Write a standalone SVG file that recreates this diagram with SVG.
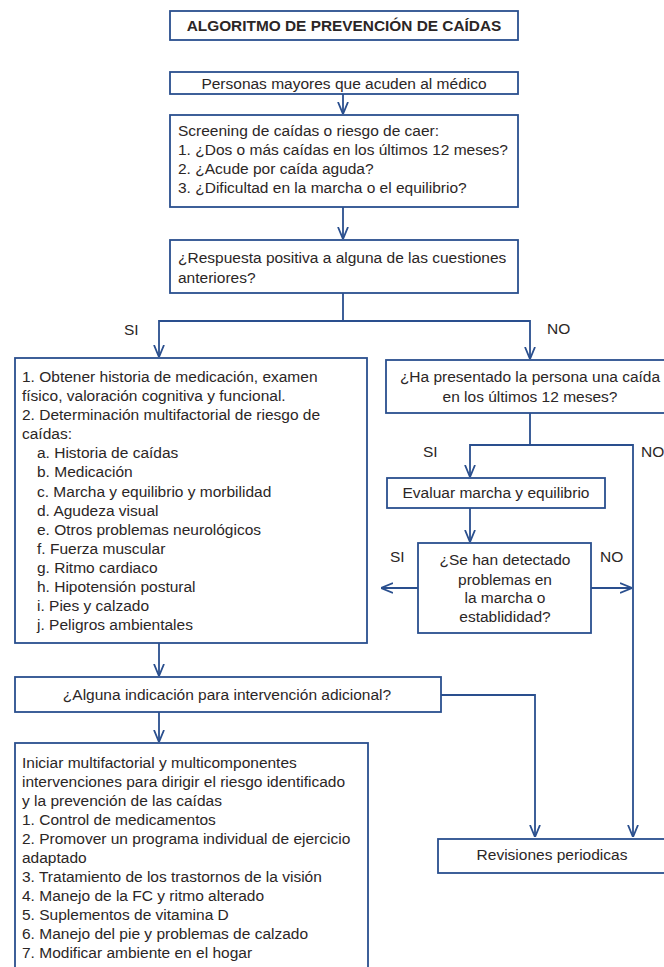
<svg xmlns="http://www.w3.org/2000/svg" width="664" height="967" viewBox="0 0 664 967">
<defs>
<marker id="ah" viewBox="0 0 12 12" refX="12" refY="6" markerWidth="12" markerHeight="12" markerUnits="userSpaceOnUse" orient="auto">
<path d="M0,1 L12,6 L0,11" fill="none" stroke="#2a4f8e" stroke-width="1.8"/>
</marker>
<style>
.box{fill:#fff;stroke:#2a4f8e;stroke-width:1.8}
.t{font-family:"Liberation Sans",Arial,sans-serif;font-size:15.5px;fill:#2b2626}
.c{text-anchor:middle}
.b{font-weight:bold;font-size:15.4px}
.ln{fill:none;stroke:#2a4f8e;stroke-width:1.8}
</style>
</defs>
<rect width="664" height="967" fill="#fff"/>
<g id="title"><rect class="box" x="170" y="11" width="348" height="29"/><text class="t c b" x="344" y="31">ALGORITMO DE PREVENCIÓN DE CAÍDAS</text></g>
<g id="n1"><rect class="box" x="170" y="72" width="348" height="22"/><text class="t c" x="344" y="88.5">Personas mayores que acuden al médico</text></g>
<g id="n2"><rect class="box" x="170" y="115" width="348" height="92"/>
<text class="t" x="178" y="136">Screening de caídas o riesgo de caer:</text>
<text class="t" x="178" y="155">1. ¿Dos o más caídas en los últimos 12 meses?</text>
<text class="t" x="178" y="174">2. ¿Acude por caída aguda?</text>
<text class="t" x="178" y="193">3. ¿Dificultad en la marcha o el equilibrio?</text></g>
<g id="n3"><rect class="box" x="170" y="240" width="348" height="53"/>
<text class="t" x="178" y="263">¿Respuesta positiva a alguna de las cuestiones</text>
<text class="t" x="178" y="283">anteriores?</text></g>
<g id="n4"><rect class="box" x="15" y="358" width="352" height="285"/>
<text class="t" x="22" y="382">1. Obtener historia de medicación, examen</text>
<text class="t" x="22" y="401">físico, valoración cognitiva y funcional.</text>
<text class="t" x="22" y="420">2. Determinación multifactorial de riesgo de</text>
<text class="t" x="22" y="439">caídas:</text>
<text class="t" x="37" y="458">a. Historia de caídas</text>
<text class="t" x="37" y="477">b. Medicación</text>
<text class="t" x="37" y="497">c. Marcha y equilibrio y morbilidad</text>
<text class="t" x="37" y="516">d. Agudeza visual</text>
<text class="t" x="37" y="535">e. Otros problemas neurológicos</text>
<text class="t" x="37" y="554">f. Fuerza muscular</text>
<text class="t" x="37" y="573">g. Ritmo cardiaco</text>
<text class="t" x="37" y="592">h. Hipotensión postural</text>
<text class="t" x="37" y="611">i. Pies y calzado</text>
<text class="t" x="37" y="630">j. Peligros ambientales</text></g>
<g id="n5"><rect class="box" x="386" y="360" width="288" height="53"/>
<text class="t c" x="530" y="382">¿Ha presentado la persona una caída</text>
<text class="t c" x="530" y="402">en los últimos 12 meses?</text></g>
<g id="n6"><rect class="box" x="387" y="478" width="218" height="30"/>
<text class="t c" x="496" y="498">Evaluar marcha y equilibrio</text></g>
<g id="n7"><rect class="box" x="418" y="543" width="173" height="90"/>
<text class="t c" x="505" y="565">¿Se han detectado</text>
<text class="t c" x="505" y="585">problemas en</text>
<text class="t c" x="505" y="603">la marcha o</text>
<text class="t c" x="505" y="622">establididad?</text></g>
<g id="n8"><rect class="box" x="15" y="677" width="426" height="35"/>
<text class="t c" x="227" y="700">¿Alguna indicación para intervención adicional?</text></g>
<g id="n9"><rect class="box" x="15" y="743" width="353" height="240"/>
<text class="t" x="22" y="768">Iniciar multifactorial y multicomponentes</text>
<text class="t" x="22" y="787">intervenciones para dirigir el riesgo identificado</text>
<text class="t" x="22" y="806">y la prevención de las caídas</text>
<text class="t" x="22" y="825">1. Control de medicamentos</text>
<text class="t" x="22" y="844">2. Promover un programa individual de ejercicio</text>
<text class="t" x="22" y="863">adaptado</text>
<text class="t" x="22" y="882">3. Tratamiento de los trastornos de la visión</text>
<text class="t" x="22" y="901">4. Manejo de la FC y ritmo alterado</text>
<text class="t" x="22" y="920">5. Suplementos de vitamina D</text>
<text class="t" x="22" y="939">6. Manejo del pie y problemas de calzado</text>
<text class="t" x="22" y="958">7. Modificar ambiente en el hogar</text></g>
<g id="n10"><rect class="box" x="438" y="839" width="230" height="34"/>
<text class="t c" x="552" y="860">Revisiones periodicas</text></g>
<g id="connectors">
<line class="ln" x1="343" y1="94" x2="343" y2="114" marker-end="url(#ah)"/>
<line class="ln" x1="343" y1="207" x2="343" y2="239" marker-end="url(#ah)"/>
<polyline class="ln" points="343,293 343,321 530,321 530,359" marker-end="url(#ah)"/>
<polyline class="ln" points="343,321 159,321 159,357" marker-end="url(#ah)"/>
<polyline class="ln" points="530,413 530,445 470,445 470,477" marker-end="url(#ah)"/>
<polyline class="ln" points="530,445 633,445 633,837" marker-end="url(#ah)"/>
<line class="ln" x1="470" y1="508" x2="470" y2="542" marker-end="url(#ah)"/>
<line class="ln" x1="418" y1="588" x2="381" y2="588" marker-end="url(#ah)"/>
<line class="ln" x1="591" y1="588" x2="632" y2="588" marker-end="url(#ah)"/>
<line class="ln" x1="159" y1="643" x2="159" y2="676" marker-end="url(#ah)"/>
<line class="ln" x1="159" y1="712" x2="159" y2="742" marker-end="url(#ah)"/>
<polyline class="ln" points="441,695 535,695 535,837" marker-end="url(#ah)"/>
<text class="t" x="124" y="335">SI</text>
<text class="t" x="547" y="334">NO</text>
<text class="t" x="423" y="457">SI</text>
<text class="t" x="641" y="457">NO</text>
<text class="t" x="390" y="562">SI</text>
<text class="t" x="600" y="562">NO</text>
</g>
</svg>
